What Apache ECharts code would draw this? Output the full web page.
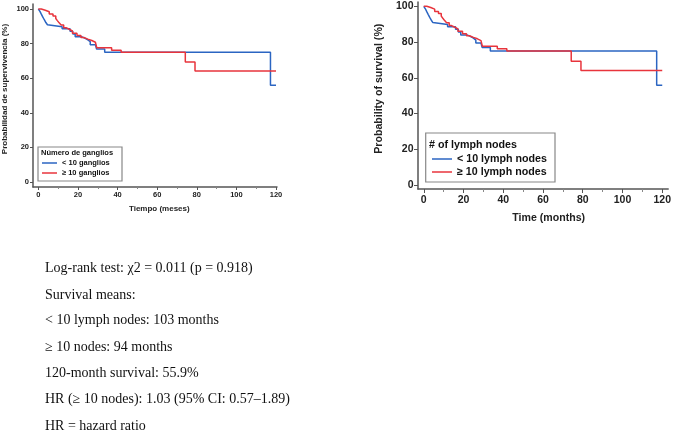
<!DOCTYPE html>
<html>
<head>
<meta charset="utf-8">
<script src="https://cdn.jsdelivr.net/npm/echarts@6/dist/echarts.min.js"></script>
<style>
html,body{margin:0;padding:0;background:#fff;}
#chart{width:674px;height:435px;}
</style>
</head>
<body>
<div id="chart"></div>
<script>
// Kaplan-Meier step data: [time (months), survival (%)]
const lowNodes = [[0,100],[0.8,98.6],[1.5,97],[2.2,95.5],[3,93.8],[3.8,92.2],[4.6,90.9],[5.6,89.8],[12,88.6],[16,87.2],[17.4,85.6],[18.6,84],[21.8,83.2],[23.4,82.2],[25,81.1],[26.2,79.4],[28.8,78.4],[29.4,76.9],[33.5,75],[117.2,55.9],[120,55.9]];
const highNodes = [[0,100],[1.5,99.3],[3.5,98.4],[5.5,97.1],[7.4,95.9],[8.8,94.5],[9.6,93.3],[10.5,92],[11.5,90.8],[12.8,89.2],[14,88.3],[15.6,87.3],[17.2,86],[19.5,84.7],[21.5,83.5],[23,82.6],[25,81.8],[27,80.8],[28.8,79.8],[29.5,77.6],[37,76.2],[41.8,75],[74.2,69.3],[79.1,64.1],[120,64.1]];

const xTicks = [0,20,40,60,80,100,120];
const xMinorTicks = [10,30,50,70,90,110];
const yTicks = [0,20,40,60,80,100];

const namesEs = ['< 10 ganglios','≥ 10 ganglios'];
const namesEn = ['< 10 lymph nodes','≥ 10 lymph nodes'];
const legendTitleEs = 'Número de ganglios';
const legendTitleEn = '# of lymph nodes';
const axisTitlesEs = ['Tiempo (meses)','Probabilidad de supervivencia (%)'];
const axisTitlesEn = ['Time (months)','Probability of survival (%)'];

const statLines = [
  'Log-rank test: χ2 = 0.011 (p = 0.918)',
  'Survival means:',
  '< 10 lymph nodes: 103 months',
  '≥ 10 nodes: 94 months',
  '120-month survival: 55.9%',
  'HR (≥ 10 nodes): 1.03 (95% CI: 0.57–1.89)',
  'HR = hazard ratio'
];

const BLUE = '#2b65c2', RED = '#e8343c', AXIS = '#555';
const FONT = 'Liberation Sans';

function xAxes(grid, min, max, fs, margin, tickLen){
  return [
    {gridIndex:grid, type:'value', position:'bottom', min:min, max:max,
     axisLine:{show:true, onZero:false, lineStyle:{color:AXIS, width:1.5}},
     axisTick:{show:true, customValues:xTicks, length:tickLen, lineStyle:{color:AXIS, width:1}},
     axisLabel:{customValues:xTicks, fontSize:fs, fontWeight:'bold', fontFamily:FONT, color:'#222', margin:margin},
     splitLine:{show:false}},
    {gridIndex:grid, type:'value', position:'bottom', offset:0, min:min, max:max,
     axisLine:{show:false, onZero:false},
     axisTick:{show:true, customValues:xMinorTicks, length:tickLen-1, lineStyle:{color:'#888', width:1}},
     axisLabel:{show:false},
     splitLine:{show:false}}
  ];
}
function yAxis(grid, min, max, fs, margin, tickLen){
  return {gridIndex:grid, type:'value', position:'left', min:min, max:max,
    axisLine:{show:true, onZero:false, lineStyle:{color:AXIS, width:1.5}},
    axisTick:{show:true, customValues:yTicks, length:tickLen, lineStyle:{color:AXIS, width:1}},
    axisLabel:{customValues:yTicks, fontSize:fs, fontWeight:'bold', fontFamily:FONT, color:'#222', margin:margin},
    splitLine:{show:false}};
}
function km(name, data, color, xi, yi){
  return {type:'line', name:name, data:data, step:'end', showSymbol:false, symbol:'none',
    xAxisIndex:xi, yAxisIndex:yi, color:color,
    lineStyle:{color:color, width:1.5}, itemStyle:{color:color}};
}

const graphics = [
  {type:'rect', shape:{x:38, y:147, width:84, height:34}, style:{fill:'none', stroke:'#888', lineWidth:1.2}},
  {type:'text', x:41, y:153, style:{text:legendTitleEs, font:'bold 7.5px "Liberation Sans"', fill:'#111', align:'left', verticalAlign:'middle'}},
  {type:'rect', shape:{x:425.7, y:133, width:129.3, height:49}, style:{fill:'none', stroke:'#888', lineWidth:1.2}},
  {type:'text', x:429, y:145, style:{text:legendTitleEn, font:'bold 10.7px "Liberation Sans"', fill:'#111', align:'left', verticalAlign:'middle'}},
  {type:'text', x:159.3, y:208.5, style:{text:axisTitlesEs[0], font:'bold 8px "Liberation Sans"', fill:'#222', align:'center', verticalAlign:'middle'}},
  {type:'text', x:5, y:89, rotation:Math.PI/2, style:{text:axisTitlesEs[1], font:'bold 8px "Liberation Sans"', fill:'#222', align:'center', verticalAlign:'middle'}},
  {type:'text', x:548.7, y:218.5, style:{text:axisTitlesEn[0], font:'bold 10.6px "Liberation Sans"', fill:'#222', align:'center', verticalAlign:'middle'}},
  {type:'text', x:379, y:88.7, rotation:Math.PI/2, style:{text:axisTitlesEn[1], font:'bold 10.6px "Liberation Sans"', fill:'#222', align:'center', verticalAlign:'middle'}}
];
const statY = [268.3, 295, 320.7, 347.3, 373.3, 399, 426];
statLines.forEach((t,i)=>{
  graphics.push({type:'text', x:45, y:statY[i], style:{text:t, font:'14px "Liberation Serif"', fill:'#111', align:'left', verticalAlign:'middle'}});
});

const chart = echarts.init(document.getElementById('chart'), null, {renderer:'canvas'});
chart.setOption({
  animation:false,
  backgroundColor:'#fff',
  grid:[
    {left:33, right:397, top:4, bottom:248},
    {left:418, right:3, top:2, bottom:246}
  ],
  xAxis:[].concat(xAxes(0,-2.7,120.5,7.5,3.5,3), xAxes(1,-2.9,123,10.5,6,4)),
  yAxis:[yAxis(0,-2.9,102.9,7.5,4,3), yAxis(1,-2.2,102.4,10.5,4.5,4)],
  legend:[
    {data:namesEs, orient:'vertical', left:42, top:158, padding:0, itemGap:0, itemWidth:15, itemHeight:1.5, icon:'rect',
     textStyle:{fontSize:7.5, fontWeight:'bold', fontFamily:FONT, color:'#111', lineHeight:10}, selectedMode:false},
    {data:namesEn, orient:'vertical', left:432, top:152.5, padding:0, itemGap:0, itemWidth:20, itemHeight:1.5, icon:'rect',
     textStyle:{fontSize:10.7, fontWeight:'bold', fontFamily:FONT, color:'#111', lineHeight:13}, selectedMode:false}
  ],
  series:[
    km(namesEs[0], lowNodes, BLUE, 0, 0),
    km(namesEs[1], highNodes, RED, 0, 0),
    km(namesEn[0], lowNodes, BLUE, 2, 1),
    km(namesEn[1], highNodes, RED, 2, 1)
  ],
  graphic:graphics
});
</script>
</body>
</html>
